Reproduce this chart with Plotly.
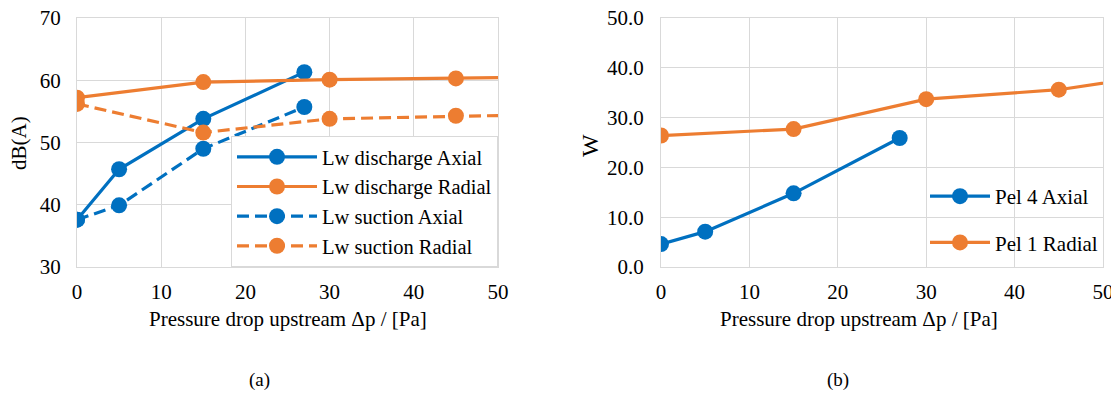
import plotly.graph_objects as go

# ---------------- data ----------------
x_axial = [0, 5, 15, 27]
x_radial = [0, 15, 30, 45, 60]

lw_discharge_axial = [37.6, 45.7, 53.8, 61.3]
lw_discharge_radial = [57.2, 59.7, 60.1, 60.3, 60.6]
lw_suction_axial = [37.6, 39.9, 49.0, 55.7]
lw_suction_radial = [56.2, 51.6, 53.8, 54.3, 54.6]

pel4_axial = [4.6, 7.1, 14.8, 25.9]
pel1_radial = [26.4, 27.7, 33.7, 35.6, 39.5]

x_ticks = [0, 10, 20, 30, 40, 50]
left_y_ticks = [30, 40, 50, 60, 70]
right_y_ticks = [0, 10, 20, 30, 40, 50]

BLUE = "#0070C0"
ORANGE = "#ED7D31"
GRID = "#d9d9d9"
FONT = "Liberation Serif, Times New Roman, serif"
FS = 21
LFS = 20.5

# the page body has an 8px margin; size the figure so it fits the 1119x393 window
OFF = 8
W, H = 1119 - OFF, 393 - OFF


def px_x(p):
    return (p - OFF) / W


def px_y(p):
    return 1 - (p - OFF) / H


fig = go.Figure()


def add(x, y, name, color, dash, xa, ya, leg, group=None):
    fig.add_trace(go.Scatter(
        x=x, y=y, name=name, mode="lines+markers",
        line=dict(color=color, width=3.2, dash=dash),
        marker=dict(color=color, size=16),
        xaxis=xa, yaxis=ya, legend=leg, legendgroup=group))


add(x_axial, lw_discharge_axial, "Lw discharge Axial", BLUE, "solid", "x", "y", "legend")
add(x_radial, lw_discharge_radial, "Lw discharge Radial", ORANGE, "solid", "x", "y", "legend")
add(x_axial, lw_suction_axial, "Lw suction Axial", BLUE, "12px,6px", "x", "y", "legend")
add(x_radial, lw_suction_radial, "Lw suction Radial", ORANGE, "12px,6px", "x", "y", "legend")
add(x_axial, pel4_axial, "Pel 4 Axial", BLUE, "solid", "x2", "y2", "legend2", "a")
add(x_radial, pel1_radial, "Pel 1 Radial", ORANGE, "solid", "x2", "y2", "legend2", "b")

ydom = [px_y(267), px_y(18)]

axis_style = dict(showgrid=True, gridcolor=GRID, gridwidth=1, showline=True, linecolor=GRID,
                  linewidth=1, mirror=True, zeroline=False, ticks="", automargin=False,
                  ticklabeloverflow="allow",
                  tickfont=dict(family=FONT, size=FS, color="#000"))

fig.update_layout(
    template="none",
    width=W, height=H,
    margin=dict(l=0, r=0, t=0, b=0, pad=0),
    paper_bgcolor="white", plot_bgcolor="white",
    font=dict(family=FONT, size=FS, color="#000"),
    showlegend=True,
    xaxis=dict(domain=[px_x(77), px_x(498)], range=[0, 50], tickvals=x_ticks,
               anchor="y", ticklabelstandoff=6, **axis_style),
    yaxis=dict(domain=ydom, range=[30, 70], tickvals=left_y_ticks, anchor="x",
               ticklabelstandoff=11, **axis_style),
    xaxis2=dict(domain=[px_x(661), px_x(1103)], range=[0, 50], tickvals=x_ticks,
                anchor="y2", ticklabelstandoff=6, **axis_style),
    yaxis2=dict(domain=ydom, range=[0, 50], tickvals=right_y_ticks, tickformat=".1f",
                anchor="x2", ticklabelstandoff=12, **axis_style),
    legend=dict(x=px_x(498), xanchor="right", y=px_y(267), yanchor="bottom",
                bgcolor="white", bordercolor=GRID, borderwidth=1,
                font=dict(family=FONT, size=LFS, color="#000"), itemwidth=80),
    legend2=dict(x=px_x(925), xanchor="left", y=px_y(176), yanchor="top",
                 bgcolor="rgba(0,0,0,0)", borderwidth=0, traceorder="grouped",
                 font=dict(family=FONT, size=FS, color="#000"), itemwidth=60,
                 tracegroupgap=16),
    annotations=[
        dict(text="Pressure drop upstream \u0394p / [Pa]", x=px_x(287.5), y=px_y(319),
             xref="paper", yref="paper", showarrow=False, xanchor="center", yanchor="middle",
             font=dict(family=FONT, size=FS)),
        dict(text="Pressure drop upstream \u0394p / [Pa]", x=px_x(859), y=px_y(319),
             xref="paper", yref="paper", showarrow=False, xanchor="center", yanchor="middle",
             font=dict(family=FONT, size=FS)),
        dict(text="dB(A)", x=px_x(19), y=px_y(143), textangle=-90,
             xref="paper", yref="paper", showarrow=False, xanchor="center", yanchor="middle",
             font=dict(family=FONT, size=FS)),
        dict(text="W", x=px_x(590), y=px_y(146), textangle=-90,
             xref="paper", yref="paper", showarrow=False, xanchor="center", yanchor="middle",
             font=dict(family=FONT, size=24)),
        dict(text="(a)", x=px_x(259), y=px_y(380),
             xref="paper", yref="paper", showarrow=False, xanchor="center", yanchor="middle",
             font=dict(family=FONT, size=19)),
        dict(text="(b)", x=px_x(838), y=px_y(380),
             xref="paper", yref="paper", showarrow=False, xanchor="center", yanchor="middle",
             font=dict(family=FONT, size=19)),
    ],
)

fig.write_html("out.html")
